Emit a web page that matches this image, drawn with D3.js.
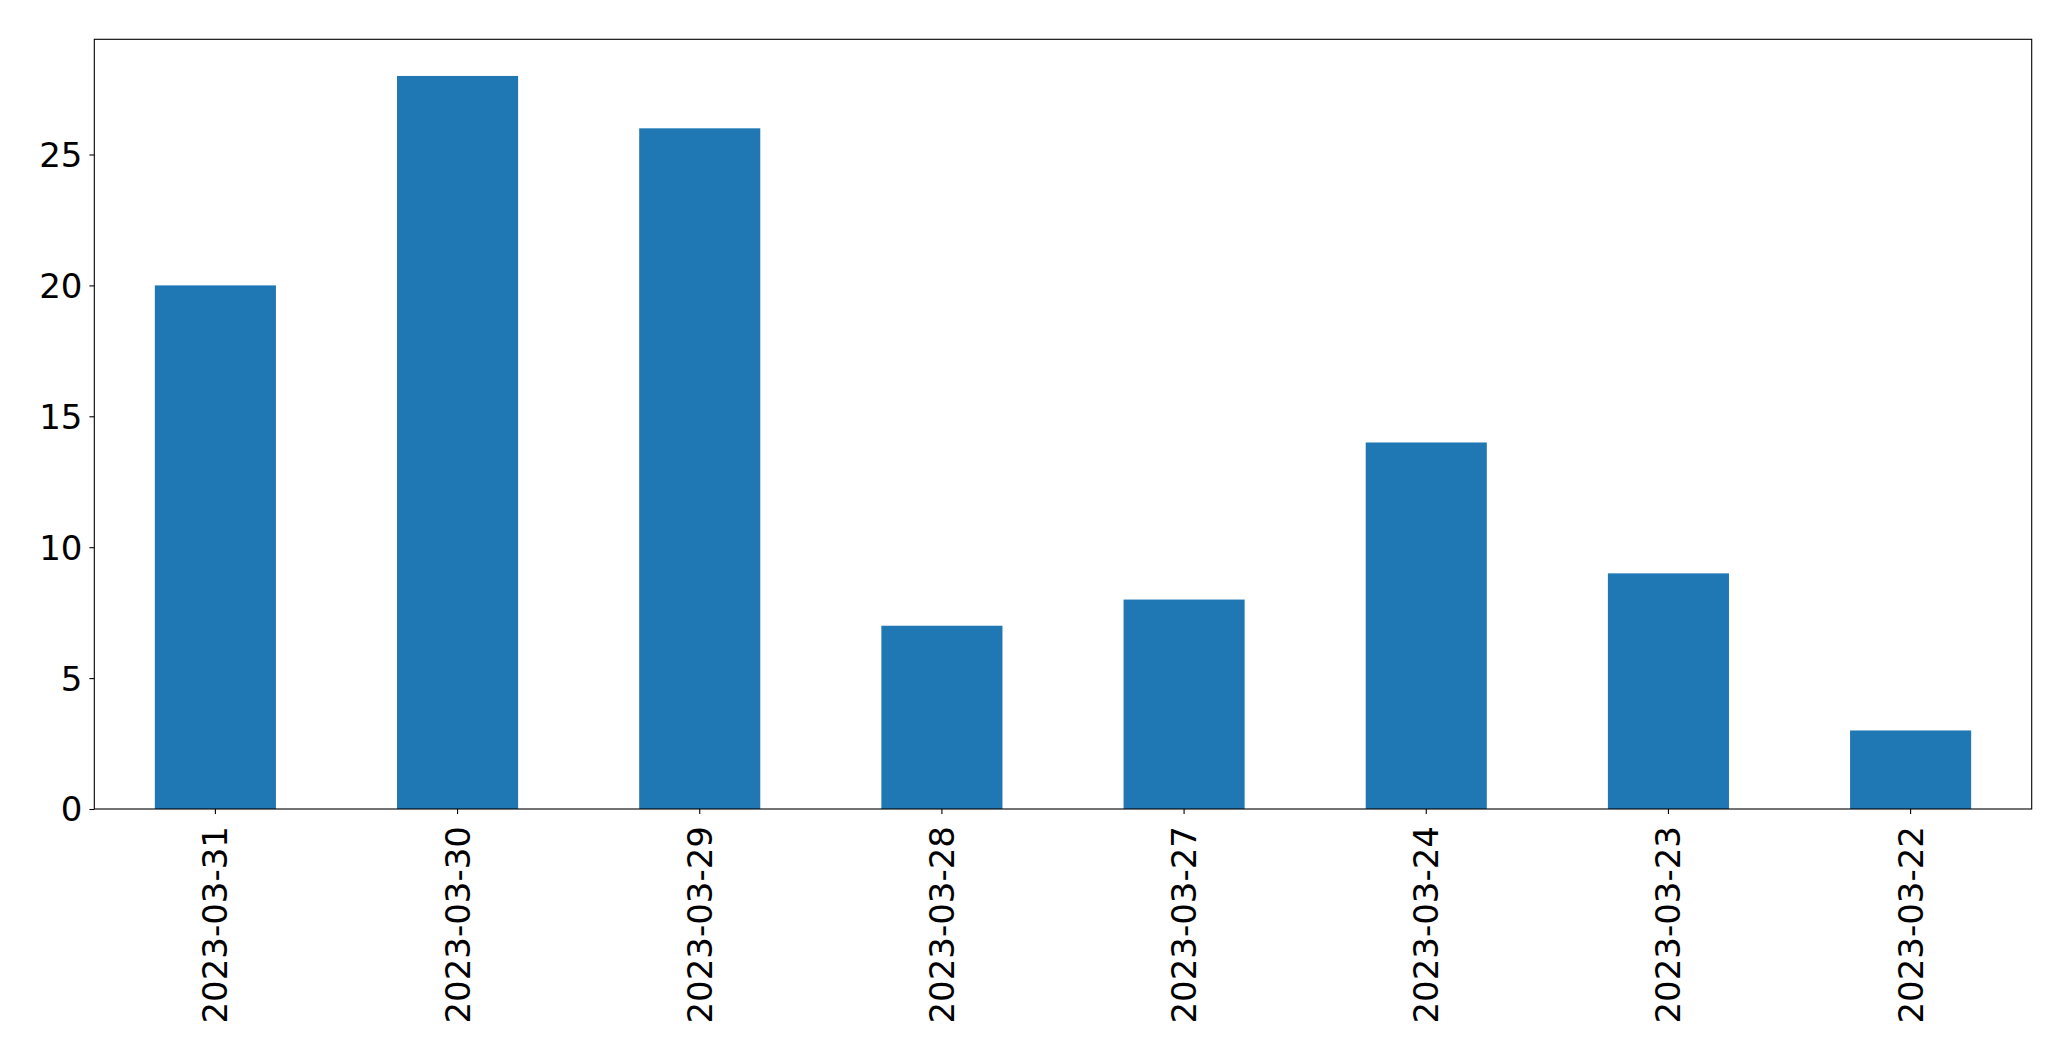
<!DOCTYPE html>
<html>
<head>
<meta charset="utf-8">
<script src="https://cdn.jsdelivr.net/npm/d3@7"></script>
<style>
  html, body { margin: 0; padding: 0; background: #fff; }
  svg { display: block; }
  text { font-family: "DejaVu Sans", sans-serif; fill: #000; }
</style>
</head>
<body>
<svg id="chart" width="2071" height="1061"></svg>
<script>
const categories = ["2023-03-31", "2023-03-30", "2023-03-29", "2023-03-28", "2023-03-27", "2023-03-24", "2023-03-23", "2023-03-22"];
const values = [20, 28, 26, 7, 8, 14, 9, 3];
const yTicks = [0, 5, 10, 15, 20, 25];

const W = 2071, H = 1061;
const margin = { left: 94.3, right: W - 2031.7, top: 39.3, bottom: H - 809 };
const svg = d3.select("#chart");
const iw = W - margin.left - margin.right;
const ih = H - margin.top - margin.bottom;
const g = svg.append("g").attr("transform", `translate(${margin.left},${margin.top})`);

const x = d3.scaleBand().domain(categories).range([0, iw]).paddingInner(0.5).paddingOuter(0.25);
const yMax = d3.max(values) * 1.05;
const y = d3.scaleLinear().domain([0, yMax]).range([ih, 0]);

g.selectAll("rect.bar").data(values).join("rect")
  .attr("class", "bar")
  .attr("x", (d, i) => x(categories[i]))
  .attr("width", x.bandwidth())
  .attr("y", d => y(d))
  .attr("height", d => y(0) - y(d))
  .attr("fill", "#1f77b4");

const fs = 34;
const yAxis = g.append("g").call(d3.axisLeft(y).tickValues(yTicks).tickSize(4.9).tickPadding(7).tickFormat(d3.format("d")));
yAxis.select(".domain").remove();
yAxis.selectAll("text").style("font-size", fs + "px").attr("dy", "0.35em");
yAxis.selectAll("line").attr("stroke", "#000").attr("stroke-width", 1.1);

const xAxis = g.append("g").attr("transform", `translate(0,${ih})`)
  .call(d3.axisBottom(x).tickSize(4.9).tickPadding(0));
xAxis.select(".domain").remove();
xAxis.selectAll("line").attr("stroke", "#000").attr("stroke-width", 1.1);
xAxis.selectAll("text")
  .style("font-size", fs + "px")
  .attr("text-anchor", "end")
  .attr("dy", null)
  .attr("transform", "translate(0,17) rotate(-90)")
  .attr("x", 0).attr("y", 0)
  .attr("dominant-baseline", "central");

g.append("rect").attr("x", 0).attr("y", 0).attr("width", iw).attr("height", ih)
  .attr("fill", "none").attr("stroke", "#000").attr("stroke-width", 1.1);
</script>
</body>
</html>
